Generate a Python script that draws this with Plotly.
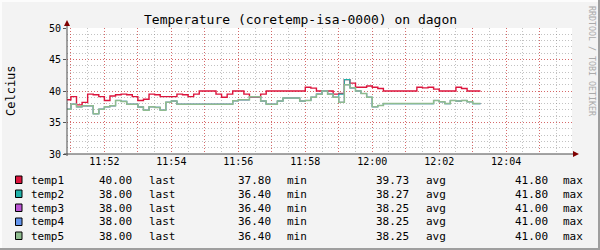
import plotly.graph_objects as go
import pandas as pd

# ---------------- data ----------------
series_names = ["temp1", "temp2", "temp3", "temp4", "temp5"]
series_colors = ["#DC143C", "#20B2AA", "#BA55D3", "#6495ED", "#8FBC8F"]

# 10-second samples starting 11:50:50
start_time = "2024-01-01 11:50:50"
end_time = "2024-01-01 12:03:14"

temp1 = [38.6, 39.1, 37.8, 38.2, 39.5, 39.4, 39.1,
         38.5, 39.2, 39.4, 39.5, 39.4, 39.1, 38.5, 38.7, 39.5, 39.4,
         39.1, 39.1, 39.1, 39.5, 39.4, 39.1, 39.5, 40.0, 40.0, 40.0,
         39.5, 39.0, 39.5, 40.0, 40.0, 39.5, 39.0, 39.0, 39.5, 40.0,
         40.0, 40.0, 40.0, 40.0, 40.0, 40.0, 40.6, 40.45, 40.0, 40.0,
         40.0, 39.5, 39.6, 41.8, 41.25, 40.6, 40.6, 40.8, 40.6, 40.4,
         40.0, 40.0, 40.0, 40.0, 40.0, 40.0, 40.6, 40.5, 40.6, 40.3,
         40.0, 40.0, 40.0, 40.6, 40.4, 40.0, 40.0, 40.0]

temp5 = [37.1, 37.9, 37.5, 37.65, 37.65, 36.4, 37.1,
         37.5, 37.65, 38.5, 38.35, 37.9, 37.9, 37.45, 36.95, 37.5, 37.4,
         36.95, 38.2, 38.4, 37.9, 37.9, 37.9, 37.9, 37.9, 37.9, 37.9,
         37.9, 37.9, 37.9, 38.45, 38.6, 38.6, 39.1, 39.1, 38.4, 37.9,
         37.9, 38.4, 38.9, 38.9, 38.9, 38.4, 38.5, 39.0, 39.5, 40.0,
         39.5, 39.0, 38.2, 41.0, 40.5, 40.0, 39.6, 39.0, 37.5, 37.7,
         38.0, 38.0, 38.0, 38.0, 38.0, 38.0, 38.0, 38.0, 38.0, 38.5,
         38.3, 38.0, 38.5, 38.4, 38.5, 38.3, 38.0, 38.0]

temp2 = [37.1, 37.9, 37.5, 37.65, 37.65, 36.4, 37.1,
         37.5, 37.65, 38.5, 38.35, 37.9, 37.9, 37.45, 36.95, 37.5, 37.4,
         36.95, 38.2, 38.4, 37.9, 37.9, 37.9, 37.9, 37.9, 37.9, 37.9,
         37.9, 37.9, 37.9, 38.45, 38.6, 38.6, 39.1, 39.1, 38.4, 37.9,
         37.9, 38.4, 38.9, 38.9, 38.9, 38.4, 38.5, 39.0, 39.5, 40.0,
         39.5, 39.0, 39.5, 41.8, 40.5, 40.0, 39.6, 39.0, 37.5, 37.7,
         38.0, 38.0, 38.0, 38.0, 38.0, 38.0, 38.0, 38.0, 38.0, 38.5,
         38.3, 38.0, 38.5, 38.4, 38.5, 38.3, 38.0, 38.0]

temp3 = list(temp5)
temp4 = list(temp5)

stat_last = ["40.00", "38.00", "38.00", "38.00", "38.00"]
stat_min = ["37.80", "36.40", "36.40", "36.40", "36.40"]
stat_avg = ["39.73", "38.27", "38.25", "38.25", "38.25"]
stat_max = ["41.80", "41.80", "41.00", "41.00", "41.00"]

y_ticks = [30, 35, 40, 45, 50]
x_major = ["11:51", "11:52", "11:53", "11:54", "11:55", "11:56", "11:57", "11:58",
           "11:59", "12:00", "12:01", "12:02", "12:03", "12:04", "12:05"]
x_labels = ["", "11:52", "", "11:54", "", "11:56", "", "11:58",
            "", "12:00", "", "12:02", "", "12:04", ""]

title_text = "Temperature (coretemp-isa-0000) on dagon"
y_title = "Celcius"
watermark = "RRDTOOL / TOBI OETIKER"

# ---------------- layout geometry ----------------
W, H = 600, 250
L, R, T, B = 67, 572, 28, 154
MONO = "DejaVu Sans Mono"
day = "2024-01-01 "
MAJOR_GRID = "rgba(240,0,0,0.45)"
MINOR_GRID = "rgba(120,120,120,0.45)"
DOT = "1px,2px"


def fx(x):
    return (x - L) / (R - L)


def fy(y):
    return (B - y) / (B - T)


times = list(pd.date_range(start_time, periods=len(temp1), freq="10s"))
times_ext = times + [pd.Timestamp(end_time)]

fig = go.Figure()
all_series = [temp1, temp2, temp3, temp4, temp5]
widths = [1.4, 1.1, 1.0, 1.0, 1.5]
for name, col, vals, lw in zip(series_names, series_colors, all_series, widths):
    fig.add_trace(go.Scatter(
        x=times_ext, y=list(vals) + [vals[-1]], mode="lines", name=name,
        line=dict(color=col, width=lw, shape="hv"), hoverinfo="skip",
        showlegend=False))

major_vals = [day + t for t in x_major]

fig.update_xaxes(
    type="date",
    range=[day + "11:50:53", day + "12:05:58"],
    tickmode="array", tickvals=major_vals, ticktext=x_labels,
    showgrid=True, gridcolor=MAJOR_GRID, griddash=DOT, gridwidth=1,
    ticks="", tickfont=dict(family=MONO, size=10, color="#000"),
    minor=dict(tickmode="linear", tick0=day + "11:50:30", dtick=30000, showgrid=True,
               gridcolor=MINOR_GRID, griddash=DOT, gridwidth=1),
    showline=False, zeroline=False, fixedrange=True,
)
fig.update_yaxes(
    range=[30, 50], tickmode="array", tickvals=y_ticks,
    ticktext=[str(v) for v in y_ticks],
    showgrid=True, gridcolor=MAJOR_GRID, griddash=DOT, gridwidth=1,
    ticks="outside", ticklen=3, tickcolor="#555", tickwidth=1,
    tickfont=dict(family=MONO, size=10, color="#000"),
    minor=dict(tickmode="linear", dtick=1, tick0=30, showgrid=True,
               gridcolor=MINOR_GRID, griddash=DOT, gridwidth=1),
    showline=False, zeroline=False, fixedrange=True,
)

shapes = []
axis_col = "#4a4a4a"
arrow_col = "#7F0000"
# y axis line and arrow
shapes.append(dict(type="line", xref="paper", yref="paper",
                   x0=fx(L), x1=fx(L), y0=fy(B + 2), y1=fy(23),
                   line=dict(color=axis_col, width=1)))
shapes.append(dict(type="path", xref="paper", yref="paper",
                   path=f"M {fx(L)} {fy(20)} L {fx(L-3)} {fy(26)} L {fx(L+3)} {fy(26)} Z",
                   fillcolor=arrow_col, line=dict(color=arrow_col, width=0)))
# x axis line and arrow
shapes.append(dict(type="line", xref="paper", yref="paper",
                   x0=fx(L - 3), x1=fx(574), y0=fy(B), y1=fy(B),
                   line=dict(color=axis_col, width=1)))
shapes.append(dict(type="path", xref="paper", yref="paper",
                   path=f"M {fx(579)} {fy(B)} L {fx(573)} {fy(B-3)} L {fx(573)} {fy(B+3)} Z",
                   fillcolor=arrow_col, line=dict(color=arrow_col, width=0)))
# outer frame shading
shapes.append(dict(type="rect", xref="paper", yref="paper",
                   x0=fx(0), x1=fx(W), y0=fy(H - 2), y1=fy(H),
                   fillcolor="#9E9E9E", line=dict(width=0)))
shapes.append(dict(type="rect", xref="paper", yref="paper",
                   x0=fx(W - 2), x1=fx(W), y0=fy(0), y1=fy(H),
                   fillcolor="#9E9E9E", line=dict(width=0)))
shapes.append(dict(type="rect", xref="paper", yref="paper",
                   x0=fx(0), x1=fx(W - 2), y0=fy(0), y1=fy(2),
                   fillcolor="#FCFCFC", line=dict(width=0)))
shapes.append(dict(type="rect", xref="paper", yref="paper",
                   x0=fx(0), x1=fx(2), y0=fy(0), y1=fy(H - 2),
                   fillcolor="#FCFCFC", line=dict(width=0)))

annotations = []
annotations.append(dict(text=title_text, xref="paper", yref="paper",
                        x=fx(300), y=fy(19), xanchor="center", yanchor="middle",
                        showarrow=False, font=dict(family=MONO, size=13, color="#000")))
annotations.append(dict(text=y_title, xref="paper", yref="paper",
                        x=fx(11), y=fy(91), xanchor="center", yanchor="middle",
                        textangle=-90, showarrow=False,
                        font=dict(family=MONO, size=12, color="#000")))
annotations.append(dict(text=watermark, xref="paper", yref="paper",
                        x=fx(592), y=fy(61), xanchor="center", yanchor="middle",
                        textangle=90, showarrow=False,
                        font=dict(family=MONO, size=8.3, color="#AAAAAA")))

row_y = [180, 194, 208, 222, 236]
col_x = [30, 98, 147.5, 236.5, 285.5, 375, 424.5, 513.5, 562]
for i, name in enumerate(series_names):
    yc = row_y[i]
    shapes.append(dict(type="rect", xref="paper", yref="paper",
                       x0=fx(15.5), x1=fx(22), y0=fy(yc - 4), y1=fy(yc + 3.5),
                       fillcolor=series_colors[i], line=dict(color="#000", width=1),
                       layer="above"))
    texts = [name, stat_last[i], "last", stat_min[i], "min",
             stat_avg[i], "avg", stat_max[i], "max"]
    for cx, tx in zip(col_x, texts):
        annotations.append(dict(text=tx, xref="paper", yref="paper",
                                x=fx(cx), y=fy(yc), xanchor="left", yanchor="middle",
                                showarrow=False, borderpad=0,
                                font=dict(family=MONO, size=11, color="#000")))

fig.update_layout(
    width=W, height=H,
    margin=dict(l=L, r=W - R, t=T, b=H - B, pad=0),
    paper_bgcolor="#F3F3F3", plot_bgcolor="#FFFFFF",
    shapes=shapes, annotations=annotations,
    showlegend=False, hovermode=False,
)

fig.write_html("out.html", config={"displayModeBar": False, "staticPlot": True})
